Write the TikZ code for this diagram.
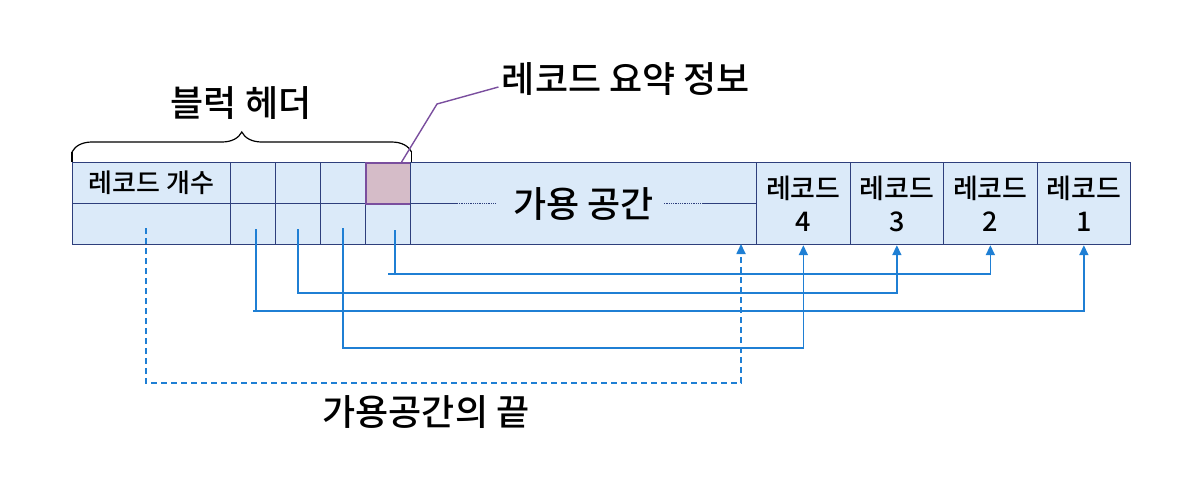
\documentclass[tikz,border=0pt]{standalone}
\usepackage{fontspec}
\setmainfont{Noto Sans CJK KR}[UprightFont={* Medium}]
\usepackage{tikz}
\usetikzlibrary{positioning}
\usetikzlibrary{arrows.meta}
\usetikzlibrary{calc}
\usetikzlibrary{decorations.pathreplacing}
\usepackage{xcolor}

\definecolor{cellfill}{HTML}{DBEAF9}
\definecolor{cellline}{HTML}{2E3F7C}
\definecolor{ptrblue}{HTML}{1F7FD4}
\definecolor{sumfill}{HTML}{D5BCC8}
\definecolor{sumline}{HTML}{7A4E9E}

\tikzset{
    cell/.style={draw=cellline, fill=cellfill, line width=1.2pt, inner sep=0pt,
        anchor=north west, minimum height=41pt},
    bigtext/.style={font=\fontsize{36}{40}\selectfont},
    ptr/.style={ptrblue, line width=1.7pt, -{Triangle[length=10pt,width=9pt]}},
}

\begin{document}
\begin{tikzpicture}[x=1pt, y=-1pt]
    \useasboundingbox (0,0) rectangle (1180,488);

    % Block header cells
    \node[cell, minimum width=158pt, font=\fontsize{26}{30}\selectfont] (cnt) at (72,162) {레코드 개수};
    \node[cell, minimum width=158pt] (cntb) at (72,203) {};
    \foreach \i/\x in {1/230,2/275,3/320,4/365} {
        \node[cell, minimum width=45pt] (h\i) at (\x,162) {};
        \node[cell, minimum width=45pt] (hb\i) at (\x,203) {};
    }
    \node[cell, minimum width=45pt, fill=sumfill, draw=sumline, line width=1.6pt] (sum) at (365,162) {};

    % Free space
    \node[cell, minimum width=346pt, minimum height=82pt, bigtext] (free) at (410,162) {가용 공간};
    \draw[cellline, line width=1.2pt] (free.west) -- ++(47,0) coordinate (fl);
    \draw[cellline, densely dotted, line width=0.8pt] (fl) -- ++(38,0);
    \draw[cellline, line width=1.2pt] (free.east) -- ++(-53,0) coordinate (fr);
    \draw[cellline, densely dotted, line width=0.8pt] (fr) -- ++(-40,0);

    % Records
    \foreach \n/\x in {4/756,3/849.5,2/943,1/1036.5} {
        \node[cell, minimum width=93.5pt, minimum height=82pt, align=center,
            font=\fontsize{27}{33}\selectfont] (rec\n) at (\x,162) {레코드\\\n};
    }

    % Brace and labels
    \draw[line width=1.2pt] (cnt.north west) -- ++(0,-10);
    \draw[line width=1.2pt] (sum.north east) -- ++(0,-10);
    \draw[line width=1.2pt, decorate, decoration={brace, amplitude=20pt, raise=10pt}]
        (cnt.north west) -- (sum.north east);
    \node[bigtext] (hdr) at (241,103) {블럭 헤더};
    \node[bigtext] (summary) at (626,79) {레코드 요약 정보};
    \coordinate (bend) at (437,104);
    \draw[sumline, line width=1.4pt] ([xshift=-10pt]sum.north east) -- (bend) -- ([yshift=-8pt]summary.west);

    % Pointers
    \coordinate (s0) at (146,228);
    \coordinate (s1) at (256,229);
    \coordinate (s2) at (298,229);
    \coordinate (s3) at (343,228);
    \coordinate (s4) at (395,230);
    \coordinate (fend) at (741,244);
    \draw[ptr] (s4) |- (hb4.south |- 0,274) -| (rec2.south);
    \draw[ptr] (s2) |- (hb2.south |- 0,293) -| (rec3.south);
    \draw[ptr] (s1) |- (hb1.south |- 0,311) -| (rec1.south);
    \draw[ptr] (s3) |- (hb3.south |- 0,348) -| (rec4.south);
    \draw[ptr, dashed, dash pattern=on 6pt off 4pt] (s0) |- (cntb.south |- 0,383) -| (fend);

    \node[bigtext] (endlbl) at (426,412) {가용공간의 끝};
\end{tikzpicture}
\end{document}
